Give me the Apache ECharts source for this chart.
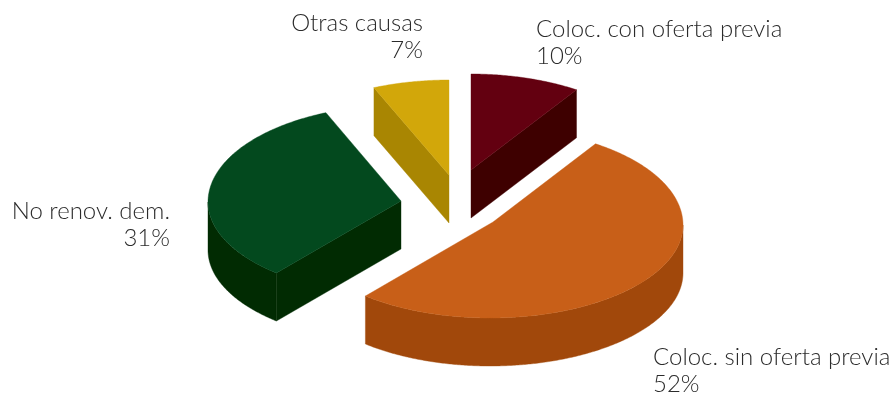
<!DOCTYPE html>
<html><head><meta charset="utf-8">
<style>html,body{margin:0;padding:0;background:#fff}#c{width:892px;height:393px}</style>
<script src="https://cdn.jsdelivr.net/npm/echarts@6/dist/echarts.min.js"></script>
</head><body><div id="c"></div>
<script>
var categories = ['Coloc. con oferta previa', 'Coloc. sin oferta previa', 'No renov. dem.', 'Otras causas'];
var values = [10, 52, 31, 7];
var tickLabels = ['10%', '52%', '31%', '7%'];

var topColors = ['#630010', '#c85f18', '#03491e', '#d2a70a'];
var sideColors = ['#3e0000', '#a1480b', '#012b02', '#a98602'];
var centers = [[471, 171], [490, 225], [401, 202], [449, 177]];
var apexes = [[471, 170], [493, 222], [401, 201], [449, 175]];
var labelPos = [[536, 43, 'left'], [653, 371, 'left'], [170, 225, 'right'], [423, 37, 'right']];
var RX = 193, RY_BACK = 97, RY_FRONT = 93, DEPTH = 48, WARP = 3 * Math.PI / 180;
var total = values.reduce(function (a, b) { return a + b; }, 0);

// Perspective projection of the tilted disc: far half slightly taller, angles slightly squeezed.
function pt(c, angle, dy) {
  var t = angle - WARP * Math.sin(2 * angle);
  var cos = Math.cos(t);
  return [c[0] + RX * Math.sin(t), c[1] - (cos > 0 ? RY_BACK : RY_FRONT) * cos + (dy || 0)];
}
function arc(c, a, b, dy) {
  var out = [], n = Math.max(2, Math.ceil((b - a) / 0.01));
  for (var i = 0; i <= n; i++) out.push(pt(c, a + (b - a) * i / n, dy));
  return out;
}
function renderItem(params, api) {
  var i = params.dataIndex, c = centers[i], apex = apexes[i], before = 0;
  for (var k = 0; k < i; k++) before += values[k];
  var a = before / total * 2 * Math.PI;
  var b = (before + api.value(0)) / total * 2 * Math.PI;
  var kids = [];
  function poly(points, fill) {
    kids.push({ type: 'polygon', shape: { points: points }, style: { fill: fill, stroke: fill, lineWidth: 0.4 } });
  }
  var down = [apex[0], apex[1] + DEPTH];
  // outer wall: the part of the rim facing the viewer
  var lo = Math.max(a, Math.PI / 2), hi = Math.min(b, Math.PI * 1.5);
  if (hi > lo) poly(arc(c, lo, hi, 0).concat(arc(c, lo, hi, DEPTH).reverse()), sideColors[i]);
  // cut faces turned towards the viewer
  if (Math.sin(a) < -1e-6) poly([apex, pt(c, a), pt(c, a, DEPTH), down], sideColors[i]);
  if (Math.sin(b) > 1e-6) poly([apex, pt(c, b), pt(c, b, DEPTH), down], sideColors[i]);
  // top face
  poly([apex].concat(arc(c, a, b, 0)), topColors[i]);
  // label
  var lp = labelPos[i];
  kids.push({ type: 'text', x: lp[0], y: lp[1], style: {
    text: categories[i] + '\n' + tickLabels[i], textAlign: lp[2], textVerticalAlign: 'middle',
    font: '300 24px Lato', lineHeight: 27.5, fill: '#2b2b2b'
  } });
  return { type: 'group', children: kids };
}
var chart = echarts.init(document.getElementById('c'), null, { renderer: 'canvas' });
chart.setOption({
  animation: false,
  backgroundColor: '#ffffff',
  series: [{
    type: 'custom', coordinateSystem: 'none', renderItem: renderItem,
    data: values.map(function (v, i) { return { name: categories[i], value: [v] }; })
  }]
});
</script></body></html>
